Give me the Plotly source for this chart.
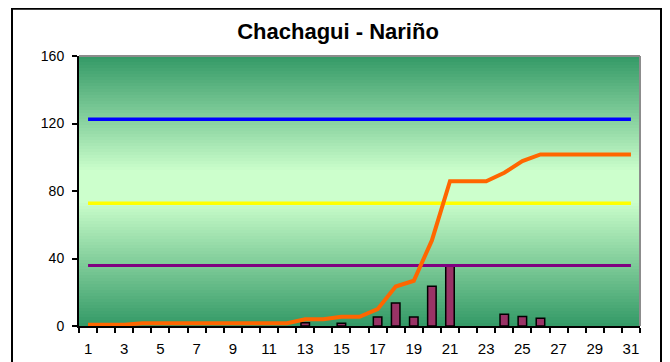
import plotly.graph_objects as go

# ---- data ----
days = list(range(1, 32))
daily_rain = [0, 0, 0, 0, 0, 0, 0, 0, 0, 0, 0, 0, 2.0, 0, 1.6, 0, 5.3, 13.6, 5.3, 23.5,
              35.5, 0, 0, 6.9, 5.7, 4.6, 0, 0, 0, 0, 0]
cumulative = [0.8, 0.8, 0.8, 1.6, 1.6, 1.6, 1.6, 1.6, 1.6, 1.6, 1.6, 1.6, 4.0, 4.0, 5.5,
              5.5, 10.0, 23.4, 26.8, 50.7, 85.8, 85.8, 85.8, 90.8, 97.7, 101.7, 101.7,
              101.7, 101.7, 101.7, 101.7]
level_blue = 122.5
level_yellow = 72.8
level_purple = 35.8
y_ticks = [0, 40, 80, 120, 160]
x_tick_labels = [1, 3, 5, 7, 9, 11, 13, 15, 17, 19, 21, 23, 25, 27, 29, 31]

# page has an 8px body margin, so the figure is sized to fit the window
W, H = 662, 354
L, R, T, B = 71, 30, 48, 36
pw, ph = W - L - R, H - T - B

fig = go.Figure()

# background gradient (Excel-like, dark edges, light centre)
dark = (0x33, 0x99, 0x66)
light = (0xCC, 0xFF, 0xCC)
n_bands = 90
centre = 0.52
shapes = []
for i in range(n_bands):
    y0 = i / n_bands
    y1 = (i + 1) / n_bands
    ym = (y0 + y1) / 2
    if ym >= centre:
        f = 1 - (ym - centre) / (1 - centre)
    else:
        f = 1 - (centre - ym) / centre
    f = max(0.0, min(1.0, f * 1.12))
    c = tuple(int(round(d + (l - d) * f)) for d, l in zip(dark, light))
    shapes.append(dict(type="rect", xref="paper", yref="paper", x0=0, x1=1, y0=y0, y1=y1 + 0.002,
                       fillcolor="rgb(%d,%d,%d)" % c, line=dict(width=0), layer="below"))

# plot area grey border (top/right)
shapes.append(dict(type="line", xref="paper", yref="paper", x0=0, x1=1, y0=1, y1=1,
                   line=dict(color="#8c8c8c", width=2), layer="above"))
shapes.append(dict(type="line", xref="paper", yref="paper", x0=1, x1=1, y0=0, y1=1,
                   line=dict(color="#8c8c8c", width=2), layer="above"))
# outer chart frame
fx0 = (4 - L) / pw
fx1 = (653 - L) / pw
fy1 = (H - B - 0.8) / ph
fy0 = (H - B - 380) / ph
shapes.append(dict(type="rect", xref="paper", yref="paper", x0=fx0, x1=fx1, y0=fy0, y1=fy1,
                   line=dict(color="black", width=2), fillcolor="rgba(0,0,0,0)", layer="above"))

# days without rain get no bar (avoid outline stubs at zero)
bar_values = [v if v > 0 else None for v in daily_rain]
fig.add_trace(go.Bar(x=days, y=bar_values, width=0.47,
                     marker=dict(color="#993366", line=dict(color="black", width=1.5)),
                     showlegend=False, hoverinfo="x+y"))

for lvl, col, w in [(level_blue, "#0000FF", 3.5), (level_yellow, "#FFFF00", 3.5),
                    (level_purple, "#800080", 3)]:
    fig.add_trace(go.Scatter(x=days, y=[lvl] * len(days), mode="lines",
                             line=dict(color=col, width=w), showlegend=False))

fig.add_trace(go.Scatter(x=days, y=cumulative, mode="lines",
                         line=dict(color="#FF6600", width=4), showlegend=False))

fig.update_layout(
    width=W, height=H,
    margin=dict(l=L, r=R, t=T, b=B, pad=0),
    paper_bgcolor="white", plot_bgcolor="rgba(0,0,0,0)",
    font=dict(family="Liberation Sans, Arial, sans-serif", size=14, color="black"),
    title=dict(text="<b>Chachagui - Nariño</b>", x=330 / W, xref="container", xanchor="center",
               y=1 - 23 / H, yref="container", yanchor="middle",
               font=dict(size=22, color="black", family="Liberation Sans, Arial, sans-serif")),
    shapes=shapes,
    xaxis=dict(range=[0.5, 31.5], tickmode="array", tickvals=x_tick_labels,
               ticktext=[str(v) for v in x_tick_labels], ticks="", showgrid=False,
               zeroline=False, showline=True, linecolor="black", linewidth=2,
               ticklabelstandoff=8, automargin=False, tickfont=dict(size=15),
               minor=dict(ticks="outside", tick0=0.5, dtick=1, ticklen=5, tickcolor="black",
                          tickwidth=1.5, showgrid=False)),
    yaxis=dict(range=[0, 160], tickmode="array", tickvals=y_ticks, ticks="outside",
               ticklen=5, tickwidth=1.5, tickcolor="black", showgrid=False, zeroline=False,
               showline=True, linecolor="black", linewidth=2, ticklabelstandoff=5,
               automargin=False),
)

fig.write_html("out.html")
